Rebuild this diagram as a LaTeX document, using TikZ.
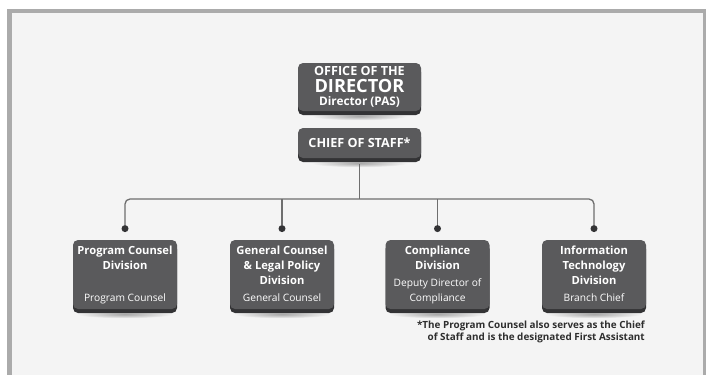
\documentclass[tikz,border=0pt]{standalone}
\usepackage{fontspec}
\setmainfont{Open Sans}
\usetikzlibrary{positioning,shadows,backgrounds}

\definecolor{boxface}{HTML}{5A5A5C}
\definecolor{boxedge}{HTML}{333335}
\definecolor{pagebg}{HTML}{F4F4F4}
\definecolor{framegray}{HTML}{ABABAB}
\definecolor{linegray}{HTML}{6E6E6E}
\definecolor{notegray}{HTML}{2E2E2E}

\tikzset{
  orgbox/.style={fill=boxface, rounded corners=5pt, text=white, align=center, inner sep=0pt,
    font=\bfseries,
    drop shadow={shadow xshift=0pt, shadow yshift=-4pt, fill=boxedge, opacity=1}},
  divbox/.style={orgbox, minimum width=104pt, minimum height=69pt},
  divtitle/.style={text=white, align=center, inner sep=0pt,
    font=\bfseries\fontsize{11.2}{14.8}\selectfont},
  divsub/.style={text=white, align=center, inner sep=0pt, text depth=0pt,
    font=\fontsize{10.2}{15}\selectfont},
  dot/.style={circle, fill=boxedge, inner sep=0pt, minimum size=7pt},
  conn/.style={draw=linegray, line width=1.3pt},
  note/.style={text=notegray, align=right, inner sep=0pt,
    font=\bfseries\fontsize{9.9}{11.5}\selectfont}
}

\begin{document}
\begin{tikzpicture}[x=1pt,y=-1pt]
\useasboundingbox (0,0) rectangle (706,375);

% top of the chart
\node[orgbox, minimum width=123pt, minimum height=48pt] (dir) at (359.5,87)
  {\fontsize{12.6}{13}\selectfont OFFICE OF THE\\[2pt]
   \fontsize{18.2}{16}\selectfont DIRECTOR\\[1.5pt]
   \fontsize{11.8}{13}\selectfont Director (PAS)};
\node[orgbox, minimum width=123pt, minimum height=30pt,
  font=\bfseries\fontsize{12.6}{15}\selectfont] (cos) at (359.5,143) {CHIEF OF STAFF*};

% divisions
\node[divbox] (pcd) at (125,274.5) {};
\node[divbox] (glp) at (282,274.5) {};
\node[divbox] (cmp) at (437.5,274.5) {};
\node[divbox] (itd) at (594,274.5) {};

\node[divtitle, below=6pt of pcd.north] (pcdT) {Program Counsel\\Division};
\node[divtitle, below=6pt of glp.north] (glpT) {General Counsel\\\& Legal Policy\\Division};
\node[divtitle, below=6pt of cmp.north] (cmpT) {Compliance\\Division};
\node[divtitle, below=6pt of itd.north] (itdT) {Information\\Technology\\Division};

\node[divsub, above=8pt of pcd.south] (pcdS) {Program Counsel};
\node[divsub, above=8pt of glp.south] (glpS) {General Counsel};
\node[divsub, above=8pt of cmp.south] (cmpS) {Deputy Director of\\Compliance};
\node[divsub, above=8pt of itd.south] (itdS) {Branch Chief};

% connectors
\node[dot, above=7.5pt of pcd] (pcdD) {};
\node[dot, above=7.5pt of glp] (glpD) {};
\node[dot, above=7.5pt of cmp] (cmpD) {};
\node[dot, above=7.5pt of itd] (itdD) {};
\coordinate (bus) at (359.5,199);
\draw[conn, rounded corners=5pt] (pcdD) -- (pcdD |- bus) -- (itdD |- bus) -- (itdD);
\draw[conn] (glpD) -- (glpD |- bus);
\draw[conn] (cmpD) -- (cmpD |- bus);
\draw[conn, shorten <=6pt] (cos) -- (cos |- bus);

\node[note, anchor=east] (fn) at (645,332)
  {*The Program Counsel also serves as the Chief\\of Staff and is the designated First Assistant};

\begin{pgfonlayer}{background}
\fill[white] (0,0) rectangle (706,375);
\fill[framegray] (7,9) rectangle (706,375);
\fill[pagebg] (12,13) rectangle (703,375);
\foreach \n in {dir,cos,pcd,glp,cmp,itd}
  \shade[inner color=black!35, outer color=pagebg] ([yshift=-5pt]\n.south) ellipse (48pt and 4pt);
\end{pgfonlayer}
\end{tikzpicture}
\end{document}
